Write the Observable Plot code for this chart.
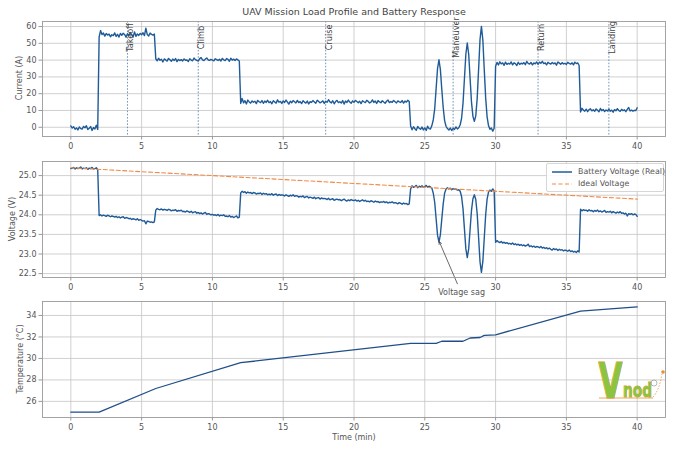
<!DOCTYPE html>
<html><head><meta charset="utf-8">
<script src="https://cdn.jsdelivr.net/npm/d3@7"></script>
<script src="https://cdn.jsdelivr.net/npm/@observablehq/plot@0.6"></script>
<style>
body{margin:0;background:#fff;font-family:"DejaVu Sans",sans-serif;}
#fig{position:relative;width:675px;height:450px;overflow:hidden;background:#fff;}
.panel{position:absolute;left:0;}
.panel svg{overflow:visible;}
.title{position:absolute;top:6px;left:254px;width:200px;text-align:center;font-size:9.5px;font-weight:normal;color:#444;white-space:nowrap;display:flex;justify-content:center;}
.ylab{position:absolute;font-size:8px;color:#555;white-space:nowrap;transform:translate(-50%,-50%) rotate(-90deg);}
.xlab{position:absolute;font-size:8px;color:#555;white-space:nowrap;transform:translate(-50%,-50%);}
.legend{position:absolute;left:546px;top:163px;width:116px;height:27px;border:1px solid #d6d6d6;border-radius:2px;background:rgba(255,255,255,0.85);font-size:7.9px;color:#555;}
.legend div{position:absolute;left:5px;display:flex;align-items:center;white-space:nowrap;}
.legend svg{margin-right:6px;}
</style></head>
<body><div id="fig"></div>
<script>
// ---- data ----
const timeStep = 0.1; // minutes between samples
const current = [
 0.8,-0.5,0.3,-1.2,-0.4,-1.6,0.2,-0.8,-1.1,0.5,
 -0.3,0.9,-1.4,-0.6,0.4,-1.9,-0.2,-1.0,1.2,-1.3,
 53.8,57.6,55.2,56.1,54.3,55.8,54.9,55.5,53.9,55.1,
 54.6,56.2,54.1,55.4,53.7,55.9,54.8,56.0,55.3,53.6,
 55.7,54.5,56.4,55.0,53.8,56.8,54.2,55.6,54.7,55.9,
 55.1,56.3,54.6,59.0,55.2,54.4,56.1,55.3,54.9,55.5,
 40.8,39.6,41.1,39.9,40.5,38.9,40.7,40.1,39.4,41.0,
 40.2,39.3,40.6,39.8,40.9,39.1,40.4,39.7,40.3,39.5,
 40.7,39.9,40.1,39.2,40.8,40.0,39.6,41.2,40.3,39.8,
 39.4,40.9,41.5,40.2,39.7,40.6,41.3,40.1,39.9,40.4,
 40.0,39.6,40.8,40.3,39.8,40.5,39.5,41.0,40.2,39.7,
 40.9,40.4,39.3,41.1,40.0,40.6,39.8,40.7,40.1,39.5,
 14.2,17.1,14.6,15.8,13.9,16.2,15.1,14.4,15.7,14.9,
 15.5,14.1,16.0,15.2,14.7,15.9,14.3,15.6,14.8,16.1,
 14.6,15.3,14.0,15.8,15.1,14.4,16.3,14.9,15.4,14.2,
 15.7,14.8,16.2,15.0,13.8,15.5,14.6,15.9,15.2,14.5,
 16.0,14.7,15.3,14.1,15.8,15.0,14.4,15.6,13.9,15.2,
 14.8,15.9,15.1,14.3,16.1,15.4,14.6,15.0,15.7,14.2,
 15.5,14.9,16.4,15.1,14.5,15.8,14.0,15.3,16.0,14.7,
 15.2,14.4,15.9,13.8,15.6,14.8,16.2,15.0,14.3,15.7,
 14.9,16.0,15.3,14.6,15.5,14.1,15.8,15.2,14.7,16.1,
 15.4,14.5,15.0,16.3,14.8,15.6,14.2,15.9,15.1,14.6,
 15.8,15.0,14.3,15.5,16.2,14.7,15.3,14.9,16.0,15.2,
 14.5,15.7,15.1,14.8,15.9,14.4,15.6,15.0,16.1,15.3,
 0.8,-1.5,0.3,-0.9,-1.8,0.5,-0.6,-1.2,0.1,-1.6,
 -0.4,-1.9,0.6,-0.8,-1.0,1.0,4.5,11.0,23.0,35.0,
 40.2,34.5,22.6,11.8,4.0,0.6,-0.8,-1.6,-0.5,-1.9,
 -0.7,-1.3,0.2,-1.0,-0.3,1.5,5.5,14.4,29.0,43.5,
 50.2,43.6,29.0,14.8,6.5,3.5,6.8,17.2,34.5,52.3,
 60.1,52.0,34.3,17.5,6.2,1.0,-1.2,-0.4,-2.3,-0.6,
 36.4,38.6,37.1,39.0,37.8,38.3,36.9,38.8,37.5,38.1,
 37.6,38.9,37.2,38.4,37.9,36.8,38.7,37.4,38.2,37.7,
 38.5,37.3,39.2,38.0,37.6,38.6,37.1,38.3,37.8,38.9,
 37.5,38.8,38.1,39.3,37.9,38.4,37.2,38.7,38.0,37.6,
 38.6,37.8,38.3,37.0,38.9,38.2,37.5,38.5,37.7,38.1,
 37.4,38.7,38.0,37.6,38.4,37.2,38.8,37.9,38.3,36.8,
 9.1,11.3,10.2,9.6,10.8,9.3,10.5,11.0,9.8,10.4,
 9.5,10.9,10.1,9.2,11.2,9.9,10.6,9.4,10.3,9.7,
 10.8,9.6,10.2,9.0,10.5,9.8,11.1,10.0,9.5,10.7,
 9.9,10.4,9.3,10.6,11.8,9.7,10.2,9.6,10.1,9.9,
 11.6
];
const voltage = [
 25.18,25.19,25.21,25.17,25.20,25.18,25.19,25.22,25.17,25.19,
 25.18,25.20,25.16,25.19,25.18,25.21,25.17,25.18,25.20,25.15,
 23.98,24.00,23.97,23.99,23.98,23.96,23.99,23.97,23.95,23.97,
 23.96,23.94,23.96,23.93,23.95,23.92,23.94,23.95,23.91,23.93,
 23.92,23.90,23.91,23.88,23.90,23.89,23.87,23.90,23.86,23.88,
 23.86,23.84,23.85,23.77,23.84,23.83,23.81,23.82,23.80,23.82,
 24.12,24.16,24.14,24.13,24.15,24.12,24.14,24.13,24.11,24.14,
 24.13,24.10,24.12,24.11,24.13,24.09,24.11,24.10,24.12,24.08,
 24.09,24.07,24.10,24.08,24.06,24.09,24.05,24.07,24.08,24.04,
 24.06,24.03,24.05,24.02,24.04,24.06,24.01,24.03,24.02,24.00,
 24.01,23.99,24.00,23.98,24.01,23.97,23.99,23.98,24.00,23.96,
 23.97,23.95,23.98,23.94,23.96,23.93,23.95,23.97,23.92,23.94,
 24.56,24.60,24.57,24.59,24.55,24.58,24.56,24.57,24.54,24.57,
 24.56,24.53,24.55,24.54,24.56,24.52,24.55,24.53,24.54,24.51,
 24.53,24.51,24.54,24.50,24.52,24.53,24.49,24.52,24.50,24.51,
 24.50,24.48,24.51,24.49,24.47,24.50,24.48,24.51,24.47,24.49,
 24.48,24.45,24.47,24.46,24.48,24.44,24.46,24.47,24.43,24.45,
 24.44,24.42,24.45,24.41,24.43,24.44,24.40,24.43,24.41,24.42,
 24.41,24.39,24.42,24.38,24.40,24.41,24.37,24.39,24.40,24.38,
 24.39,24.36,24.38,24.40,24.37,24.35,24.38,24.36,24.39,24.37,
 24.36,24.38,24.35,24.37,24.34,24.36,24.38,24.35,24.37,24.34,
 24.35,24.33,24.36,24.34,24.32,24.35,24.33,24.34,24.31,24.33,
 24.32,24.34,24.31,24.33,24.30,24.32,24.31,24.33,24.30,24.31,
 24.30,24.28,24.31,24.29,24.27,24.30,24.28,24.29,24.26,24.28,
 24.66,24.74,24.70,24.72,24.75,24.69,24.73,24.71,24.74,24.70,
 24.72,24.75,24.70,24.73,24.71,24.68,24.55,24.32,23.90,23.48,
 23.30,23.49,23.89,24.28,24.55,24.66,24.69,24.66,24.68,24.64,
 24.67,24.65,24.66,24.63,24.64,24.60,24.46,24.15,23.64,23.13,
 22.91,23.13,23.63,24.12,24.41,24.51,24.39,24.03,23.42,22.80,
 22.53,22.81,23.41,24.00,24.40,24.58,24.63,24.60,24.66,24.61,
 23.30,23.34,23.31,23.29,23.32,23.28,23.30,23.27,23.29,23.26,
 23.27,23.25,23.28,23.24,23.26,23.23,23.25,23.22,23.24,23.21,
 23.23,23.20,23.22,23.25,23.19,23.21,23.18,23.20,23.17,23.19,
 23.18,23.16,23.19,23.15,23.17,23.14,23.16,23.13,23.15,23.12,
 23.10,23.14,23.11,23.13,23.09,23.12,23.10,23.11,23.08,23.10,
 23.09,23.07,23.10,23.06,23.08,23.05,23.07,23.04,23.08,23.05,
 24.14,24.10,24.13,24.11,24.12,24.09,24.13,24.10,24.11,24.08,
 24.11,24.09,24.12,24.08,24.10,24.07,24.09,24.11,24.06,24.08,
 24.07,24.09,24.05,24.08,24.06,24.04,24.07,24.05,24.08,24.04,
 24.05,24.02,24.04,23.97,24.03,24.01,24.03,24.00,24.02,24.01,
 23.96
];
const idealTime = [0, 40];
const idealVoltage = [25.2, 24.4];
const tempTime = [0, 2, 6, 12, 24, 25.8, 26.2, 27.7, 28.2, 28.9, 29.2, 30, 36, 40];
const temperature = [25, 25, 27.2, 29.6, 31.4, 31.4, 31.6, 31.6, 31.9, 31.95, 32.15, 32.2, 34.4, 34.8];
const phaseTimes = [4, 9, 18, 27, 33, 38];
const phaseNames = ["Takeoff", "Climb", "Cruise", "Maneuver", "Return", "Landing"];
const xTicks = [0, 5, 10, 15, 20, 25, 30, 35, 40];
const currentTicks = [0, 10, 20, 30, 40, 50, 60];
const voltageTicks = [22.5, 23.0, 23.5, 24.0, 24.5, 25.0];
const tempTicks = [26, 28, 30, 32, 34];
const sagText = {t: 27.6, v: 22.03, label: "Voltage sag"};
const sagArrow = {t1: 27.3, v1: 22.24, t2: 26.03, v2: 23.31};

// ---- build ----
const BLUE = "#1f5b98", ORANGE = "#f28a45", GRID = "#c4c4c4", FRAME = "#9a9a9a";
const curData = current.map((v, i) => ({t: i * timeStep, v}));
const voltData = voltage.map((v, i) => ({t: i * timeStep, v}));
const idealData = idealTime.map((t, i) => ({t, v: idealVoltage[i]}));
const tempData = tempTime.map((t, i) => ({t, v: temperature[i]}));
const phases = phaseTimes.map((t, i) => ({t, name: phaseNames[i]}));

const fig = document.getElementById("fig");
function addDiv(cls, html, style) {
  const d = document.createElement("div");
  d.className = cls; d.innerHTML = html; Object.assign(d.style, style || {});
  fig.appendChild(d); return d;
}
function panel(top, height, mt, mb, yDomain, yTicks, yFmt, marks) {
  const p = Plot.plot({
    width: 675, height, marginLeft: 42, marginRight: 10, marginTop: mt, marginBottom: mb,
    style: {fontFamily: "DejaVu Sans", fontSize: "8px", color: "#555", background: "transparent", overflow: "visible"},
    x: {domain: [-2, 42]},
    y: {domain: yDomain},
    marks: [
      Plot.gridX(xTicks, {stroke: GRID, strokeOpacity: 1, strokeWidth: 0.8}),
      Plot.gridY(yTicks, {stroke: GRID, strokeOpacity: 1, strokeWidth: 0.8}),
      ...marks,
      Plot.frame({stroke: FRAME, strokeWidth: 0.9}),
      Plot.axisX(xTicks, {tickSize: 3.5, tickPadding: 3, stroke: FRAME, label: null}),
      Plot.axisY(yTicks, {tickSize: 3.5, tickPadding: 2.5, stroke: FRAME, label: null, tickFormat: yFmt})
    ]
  });
  const wrap = document.createElement("div");
  wrap.className = "panel"; wrap.style.top = top + "px";
  wrap.appendChild(p); fig.appendChild(wrap);
}

addDiv("title", "UAV Mission Load Profile and Battery Response");

// Panel 1: current
panel(0, 150, 21, 14, [-5.5, 63], currentTicks, d => d, [
  Plot.ruleX(phases, {x: "t", stroke: "#4d7aa8", strokeWidth: 0.8, strokeDasharray: "1.6,1.6"}),
  Plot.line(curData, {x: "t", y: "v", stroke: BLUE, strokeWidth: 1.4}),
  Plot.text(phases, {x: "t", y: 53.5, text: "name", rotate: -90, textAnchor: "middle", lineAnchor: "top", fill: "#444", fontSize: 8.2})
]);

// Panel 2: voltage
panel(150, 145, 11, 18, [22.4, 25.36], voltageTicks, d => d.toFixed(1), [
  Plot.line(voltData, {x: "t", y: "v", stroke: BLUE, strokeWidth: 1.4}),
  Plot.line(idealData, {x: "t", y: "v", stroke: ORANGE, strokeWidth: 1.1, strokeDasharray: "4,2.5"}),
  Plot.arrow([sagArrow], {x1: "t1", y1: "v1", x2: "t2", y2: "v2", stroke: "#444", strokeWidth: 0.8, headLength: 5}),
  Plot.text([sagText], {x: "t", y: "v", text: "label", fill: "#555", fontSize: 8})
]);

// Panel 3: temperature
panel(295, 155, 6, 33, [24.5, 35.3], tempTicks, d => d, [
  Plot.line(tempData, {x: "t", y: "v", stroke: "#1f4f88", strokeWidth: 1.3})
]);

// axis labels
addDiv("ylab", "Current (A)", {left: "19px", top: "78px"});
addDiv("ylab", "Voltage (V)", {left: "12px", top: "219px"});
addDiv("ylab", "Temperature (°C)", {left: "20px", top: "359px"});
addDiv("xlab", "Time (min)", {left: "354px", top: "437px"});

// legend
addDiv("legend",
  `<div style="top:3px"><svg width="20" height="8"><line x1="0" y1="4" x2="20" y2="4" stroke="${BLUE}" stroke-width="1.5"/></svg>Battery Voltage (Real)</div>` +
  `<div style="top:15px"><svg width="20" height="8"><line x1="0" y1="4" x2="20" y2="4" stroke="${ORANGE}" stroke-width="1.2" stroke-dasharray="4,2.5"/></svg>Ideal Voltage</div>`);

// watermark logo
addDiv("logo",
  `<svg width="80" height="50" viewBox="0 0 80 50" style="position:absolute;left:592px;top:354px;overflow:visible">
    <line x1="7" y1="44" x2="61" y2="44" stroke="#e8902f" stroke-width="0.8"/>
    <text x="6.5" y="44" font-family="DejaVu Sans" font-weight="bold" font-size="50" fill="#8cc43f" stroke="#e8902f" stroke-width="1.2" paint-order="stroke" textLength="24" lengthAdjust="spacingAndGlyphs">V</text>
    <text x="31" y="43" font-family="DejaVu Sans" font-weight="bold" font-size="19" fill="#8cc43f" stroke="#e8902f" stroke-width="0.9" paint-order="stroke" textLength="29" lengthAdjust="spacingAndGlyphs">nod</text>
    <circle cx="62" cy="29" r="3" fill="none" stroke="#999" stroke-width="0.7"/>
    <path d="M61 43 Q67 37 70 20" fill="none" stroke="#e8902f" stroke-width="0.8" stroke-dasharray="1.5,1.5"/>
    <circle cx="71" cy="18" r="1.8" fill="#e8902f"/>
  </svg>`, {position: "absolute", left: "0", top: "0"});
</script></body></html>
